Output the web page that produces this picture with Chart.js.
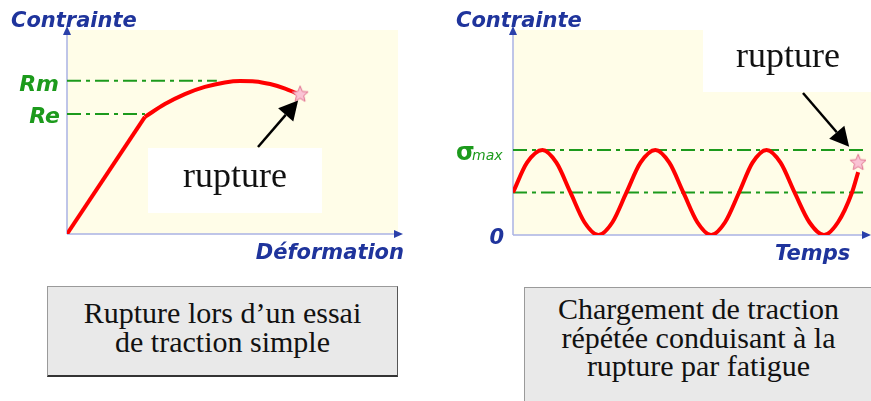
<!DOCTYPE html>
<html>
<head>
<meta charset="utf-8">
<script src="https://cdn.jsdelivr.net/npm/chart.js@4"></script>
<style>
  body { margin: 0; width: 871px; height: 401px; overflow: hidden; background: #fff; position: relative; }
  canvas { position: absolute; top: 0; }
  #tensile { left: 0; }
  #fatigue { left: 440px; }
  .caption {
    position: absolute;
    box-sizing: border-box;
    background: #e9e9e9;
    border: 1px solid #9a9a9a;
    border-right-color: #555;
    border-bottom: 2px solid #333;
    font-family: "Liberation Serif", "Times New Roman", serif;
    font-size: 30px;
    line-height: 28.5px;
    color: #111;
    text-align: center;
  }
  #capLeft { left: 47px; top: 286px; width: 351px; height: 91px; padding-top: 12px; }
  #capRight { left: 524px; top: 287px; width: 349px; height: 130px; padding-top: 7px; }
</style>
</head>
<body>
<canvas id="tensile" width="440" height="270"></canvas>
<canvas id="fatigue" width="431" height="270"></canvas>
<div class="caption" id="capLeft">Rupture lors d’un essai<br>de traction simple</div>
<div class="caption" id="capRight">Chargement de traction<br>répétée conduisant à la<br>rupture par fatigue</div>

<script>
// tensile test (left)
const elasticStrain = [0, 23.4]
const elasticStress = [0, 57.4]
const plasticStrain = [23.4, 29.4, 35.4, 41.4, 47.4, 52.0, 56.5, 61.0, 65.5, 68.8]
const plasticStress = [57.4, 63.7, 68.6, 72.1, 74.3, 75.0, 74.8, 73.5, 71.3, 69.1]
const tensileRupture = [70, 68.4]
const Re = 58.8
const Rm = 75.1
const ReEnd = 23.4
const RmEnd = 45

// fatigue test (right)
const cycleTime = [0, 0.5, 1.05, 1.55, 2.05, 2.55, 3.05, 3.55, 4.05, 4.55, 5.08, 5.58, 6.08,
  6.58, 7.07, 7.57, 8.07, 8.55, 9.05, 9.55, 10.05, 10.58, 11.1, 11.6, 12.1, 12.32]
const cycleStress = [0.5, 0.85, 1, 0.85, 0.5, 0.15, 0, 0.15, 0.5, 0.85, 1, 0.85, 0.5,
  0.15, 0, 0.15, 0.5, 0.85, 1, 0.85, 0.5, 0.15, 0, 0.15, 0.5, 0.74]
const fatigueRupture = [12.32, 0.85]
const sigmaMax = 1
const sigmaMean = 0.5

const blue = "#1f349c"
const green = "#1c9a1c"
const red = "#ff0000"
const paper = "#fffde8"

function toPoints(xs, ys) {
  return xs.map((x, i) => ({ x: x, y: ys[i] }))
}

function makeStar() {
  const c = document.createElement("canvas")
  c.width = 20
  c.height = 20
  const g = c.getContext("2d")
  g.beginPath()
  for (let i = 0; i < 10; i++) {
    const r = i % 2 === 0 ? 8.5 : 3.8
    const a = -Math.PI / 2 + i * Math.PI / 5
    g.lineTo(10 + r * Math.cos(a), 10 + r * Math.sin(a))
  }
  g.closePath()
  g.fillStyle = "#fac3d4"
  g.fill()
  g.strokeStyle = "#e0708e"
  g.lineWidth = 1
  g.stroke()
  return c
}
const star = makeStar()

function refLine(x0, x1, y) {
  return {
    data: [{ x: x0, y: y }, { x: x1, y: y }],
    borderColor: green,
    borderWidth: 2,
    borderDash: [14, 5, 4, 5],
    pointRadius: 0,
    order: 3,
  }
}

function arrow(ctx, x0, y0, x1, y1) {
  const a = Math.atan2(y1 - y0, x1 - x0)
  const len = 19
  const hw = 10
  const bx = x1 - len * Math.cos(a)
  const by = y1 - len * Math.sin(a)
  ctx.strokeStyle = "#000"
  ctx.lineWidth = 2.5
  ctx.beginPath()
  ctx.moveTo(x0, y0)
  ctx.lineTo(bx, by)
  ctx.stroke()
  ctx.fillStyle = "#000"
  ctx.beginPath()
  ctx.moveTo(x1, y1)
  ctx.lineTo(bx + hw * Math.sin(a), by - hw * Math.cos(a))
  ctx.lineTo(bx - hw * Math.sin(a), by + hw * Math.cos(a))
  ctx.closePath()
  ctx.fill()
}

function axes(ctx, area, xEnd) {
  ctx.strokeStyle = "#aab3e4"
  ctx.lineWidth = 1.5
  ctx.beginPath()
  ctx.moveTo(area.left, area.bottom)
  ctx.lineTo(area.left, area.top)
  ctx.moveTo(area.left, area.bottom)
  ctx.lineTo(xEnd - 6, area.bottom)
  ctx.stroke()
  ctx.fillStyle = "#2a40aa"
  ctx.beginPath()
  ctx.moveTo(area.left, area.top - 4)
  ctx.lineTo(area.left - 4, area.top + 5)
  ctx.lineTo(area.left + 4, area.top + 5)
  ctx.closePath()
  ctx.fill()
  ctx.beginPath()
  ctx.moveTo(xEnd, area.bottom)
  ctx.lineTo(xEnd - 9, area.bottom - 4)
  ctx.lineTo(xEnd - 9, area.bottom + 4)
  ctx.closePath()
  ctx.fill()
}

const labelFont = "italic bold 21px 'DejaVu Sans'"

const tensilePlugin = {
  id: "tensileDeco",
  beforeDatasetsDraw(chart) {
    const ctx = chart.ctx
    const a = chart.chartArea
    ctx.save()
    ctx.fillStyle = paper
    ctx.fillRect(a.left, a.top, a.right - a.left - 2, a.bottom - a.top)
    ctx.fillStyle = "#fff"
    ctx.fillRect(148, 148, 174, 65)
    axes(ctx, a, 403)
    ctx.fillStyle = blue
    ctx.font = labelFont
    ctx.textAlign = "left"
    ctx.fillText("Contrainte", 11, 27)
    ctx.textAlign = "right"
    ctx.fillText("Déformation", 404, 259)
    const y = chart.scales.y
    ctx.fillStyle = green
    ctx.font = "italic bold 22px 'DejaVu Sans'"
    ctx.fillText("Rm", 59, y.getPixelForValue(Rm) + 10)
    ctx.fillText("Re", 60, y.getPixelForValue(Re) + 8.5)
    ctx.fillStyle = "#111"
    ctx.font = "36px 'Liberation Serif'"
    ctx.textAlign = "center"
    ctx.fillText("rupture", 235, 187)
    ctx.restore()
  },
  afterDatasetsDraw(chart) {
    const x = chart.scales.x, y = chart.scales.y
    const sx = x.getPixelForValue(tensileRupture[0])
    const sy = y.getPixelForValue(tensileRupture[1])
    chart.ctx.save()
    arrow(chart.ctx, 258, 147, sx - 2, sy + 6)
    chart.ctx.restore()
  },
}

const fatiguePlugin = {
  id: "fatigueDeco",
  beforeDatasetsDraw(chart) {
    const ctx = chart.ctx
    const a = chart.chartArea
    ctx.save()
    ctx.fillStyle = paper
    ctx.fillRect(a.left, a.top, chart.width - a.left, a.bottom - a.top)
    ctx.fillStyle = "#fff"
    ctx.fillRect(263, 0, chart.width - 263, 92)
    axes(ctx, a, 431)
    ctx.fillStyle = blue
    ctx.font = labelFont
    ctx.textAlign = "left"
    ctx.fillText("Contrainte", 16, 27)
    ctx.fillText("Temps", 335, 260)
    ctx.textAlign = "right"
    ctx.fillText("0", 64, 244)
    const y = chart.scales.y
    const ym = y.getPixelForValue(sigmaMax)
    ctx.fillStyle = green
    ctx.textAlign = "left"
    ctx.font = "bold 24px 'DejaVu Sans'"
    ctx.fillText("σ", 16, ym + 10)
    ctx.font = "italic 14px 'DejaVu Sans'"
    ctx.fillText("max", 32, ym + 10)
    ctx.fillStyle = "#111"
    ctx.font = "36px 'Liberation Serif'"
    ctx.textAlign = "center"
    ctx.fillText("rupture", 348, 67)
    ctx.restore()
  },
  afterDatasetsDraw(chart) {
    const x = chart.scales.x, y = chart.scales.y
    const sx = x.getPixelForValue(fatigueRupture[0])
    const sy = y.getPixelForValue(fatigueRupture[1])
    chart.ctx.save()
    arrow(chart.ctx, 363, 93, sx - 9, sy - 16)
    chart.ctx.restore()
  },
}

const hiddenScales = (xmax, ymax) => ({
  x: { type: "linear", display: false, min: 0, max: xmax },
  y: { type: "linear", display: false, min: 0, max: ymax },
})

new Chart(document.getElementById("tensile"), {
  type: "line",
  data: {
    datasets: [
      { data: toPoints(elasticStrain, elasticStress), borderColor: red, borderWidth: 4, pointRadius: 0, tension: 0, order: 1 },
      { data: toPoints(plasticStrain, plasticStress), borderColor: red, borderWidth: 4, pointRadius: 0, cubicInterpolationMode: "monotone", order: 1 },
      refLine(0, RmEnd, Rm),
      refLine(0, ReEnd, Re),
      { data: [{ x: tensileRupture[0], y: tensileRupture[1] }], pointStyle: star, showLine: false, order: 0 },
    ],
  },
  options: {
    responsive: false,
    animation: false,
    layout: { padding: { left: 67, top: 30, right: 40, bottom: 36 } },
    scales: hiddenScales(100, 100),
    plugins: { legend: { display: false }, tooltip: { enabled: false } },
  },
  plugins: [tensilePlugin],
})

new Chart(document.getElementById("fatigue"), {
  type: "line",
  data: {
    datasets: [
      { data: toPoints(cycleTime, cycleStress), borderColor: red, borderWidth: 4, pointRadius: 0, cubicInterpolationMode: "monotone", order: 1 },
      refLine(0, 12.6, sigmaMax),
      refLine(0, 12.6, sigmaMean),
      { data: [{ x: fatigueRupture[0], y: fatigueRupture[1] }], pointStyle: star, showLine: false, order: 0 },
    ],
  },
  options: {
    responsive: false,
    animation: false,
    layout: { padding: { left: 73, top: 30, right: 1, bottom: 35 } },
    scales: hiddenScales(12.6, 2.41),
    plugins: { legend: { display: false }, tooltip: { enabled: false } },
  },
  plugins: [fatiguePlugin],
})
</script>
</body>
</html>
